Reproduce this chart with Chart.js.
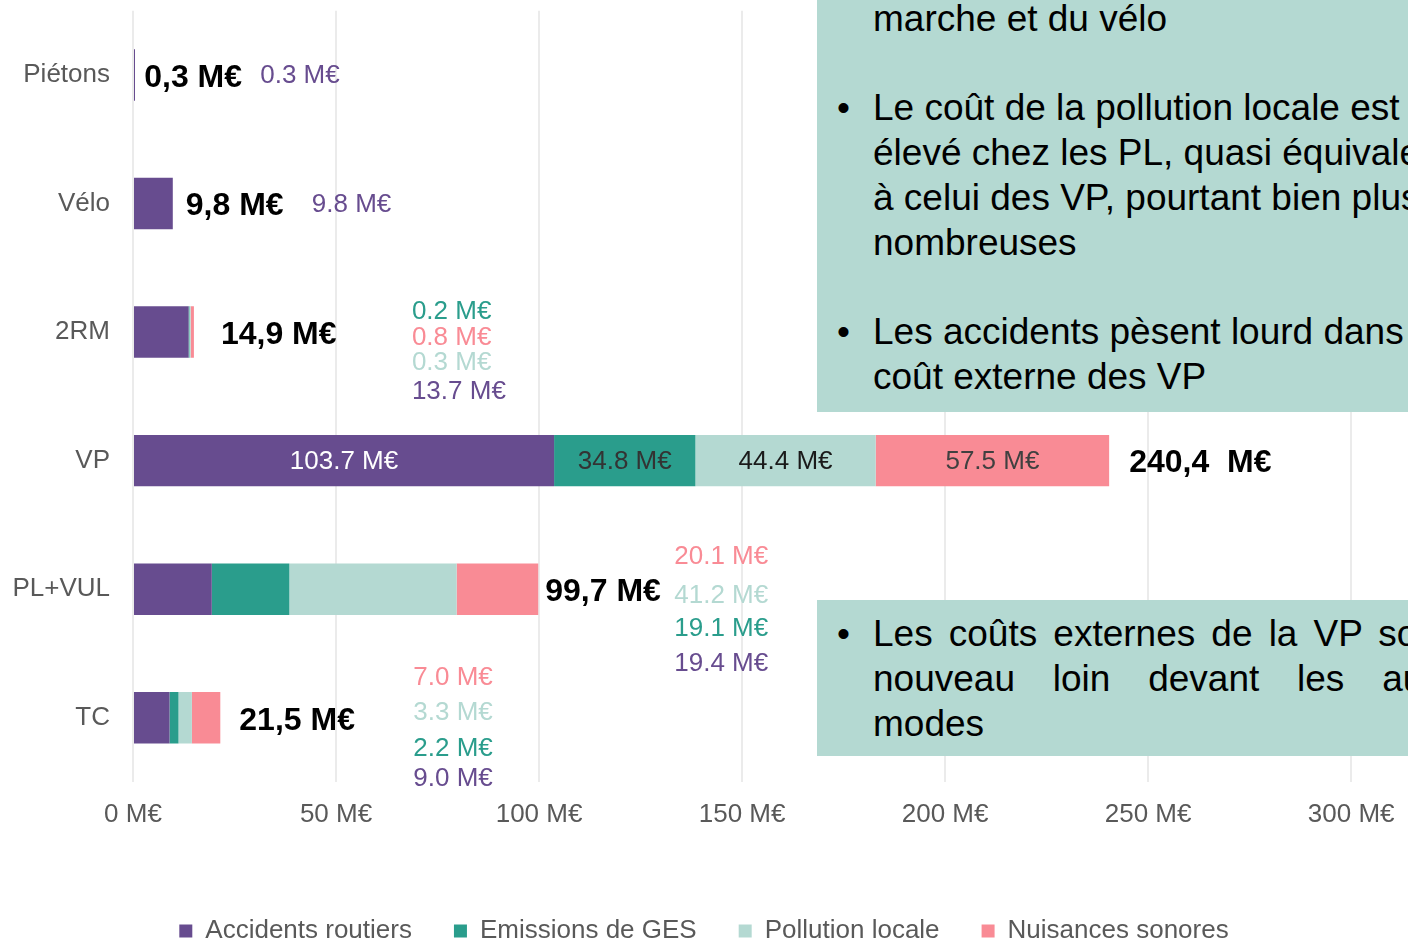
<!DOCTYPE html>
<html><head><meta charset="utf-8">
<script src="https://cdn.jsdelivr.net/npm/chart.js@4.4.1/dist/chart.umd.min.js"></script>
<style>
html,body{margin:0;padding:0;overflow:hidden;background:#fff;}
#wrap{position:relative;width:1408px;height:946px;overflow:hidden;}
#c{position:absolute;left:0;top:0;}
.box{position:absolute;left:817px;width:760px;background:#B4D9D2;overflow:hidden;font-family:"Liberation Sans",Arial,sans-serif;font-size:37px;color:#000;}
.ln{position:absolute;left:56px;white-space:nowrap;height:44.8px;line-height:44.8px;}
.bul{position:absolute;left:20px;height:44.8px;line-height:44.8px;}
.just{white-space:normal;width:612px;text-align:justify;text-align-last:justify;}
</style></head>
<body><div id="wrap">
<canvas id="c" width="1408" height="946"></canvas>
<div class="box" style="top:0;height:412px;">
  <div class="ln" style="top:-3.4px">marche et du vélo</div>
  <div class="bul" style="top:85.6px">•</div>
  <div class="ln" style="top:85.6px">Le coût de la pollution locale est</div>
  <div class="ln" style="top:130.6px">élevé chez les PL, quasi équivalent</div>
  <div class="ln" style="top:175.6px">à celui des VP, pourtant bien plus</div>
  <div class="ln" style="top:220.6px">nombreuses</div>
  <div class="bul" style="top:309.6px">•</div>
  <div class="ln" style="top:309.6px">Les accidents pèsent lourd dans</div>
  <div class="ln" style="top:354.6px">coût externe des VP</div>
</div>
<div class="box" style="top:600px;height:156px;">
  <div class="bul" style="top:11.6px">•</div>
  <div class="ln just" style="top:11.6px">Les coûts externes de la VP sont à</div>
  <div class="ln just" style="top:56.6px">nouveau loin devant les autres</div>
  <div class="ln" style="top:101.6px">modes</div>
</div>
</div>
<script>
const categories = ['Piétons', 'Vélo', '2RM', 'VP', 'PL+VUL', 'TC'];
const seriesNames = ['Accidents routiers', 'Emissions de GES', 'Pollution locale', 'Nuisances sonores'];
const accidents = [0.3, 9.8, 13.7, 103.7, 19.4, 9.0];
const emissionsGES = [0, 0, 0.2, 34.8, 19.1, 2.2];
const pollutionLocale = [0, 0, 0.3, 44.4, 41.2, 3.3];
const nuisancesSonores = [0, 0, 0.8, 57.5, 20.1, 7.0];
const totals = [0.3, 9.8, 14.9, 240.4, 99.7, 21.5];
const totalUnits = [' M€', ' M€', ' M€', '  M€', ' M€', ' M€'];
const xTickValues = [0, 50, 100, 150, 200, 250, 300];

const series = [accidents, emissionsGES, pollutionLocale, nuisancesSonores];
const FONT = '"Liberation Sans", Arial, sans-serif';
const seriesColors = ['#674C8F', '#2A9D8C', '#B4D9D2', '#F98B95'];
const insideColors = ['#FFFFFF', '#333333', '#1A1A1A', '#404040'];
// label placement (pixel offsets), per category
const labelLayout = [
  {totalDx: 10, dx: 126, items: [[0, 1]]},
  {totalDx: 13, dx: 139, items: [[0, 1]]},
  {totalDx: 27, dx: 218, items: [[1, -20], [3, 6], [2, 31], [0, 60]]},
  {totalDx: 20, inside: true},
  {totalDx: 7, dx: 136, items: [[3, -32], [2, 7], [1, 40], [0, 75]]},
  {totalDx: 19, dx: 193, items: [[3, -40], [2, -5], [1, 31], [0, 61]]}
];
const fmt = v => v.toFixed(1) + ' M€';

const valueLabels = {
  id: 'valueLabels',
  afterDatasetsDraw(chart) {
    const ctx = chart.ctx, xs = chart.scales.x, ys = chart.scales.y;
    ctx.save();
    ctx.textBaseline = 'middle';
    categories.forEach((cat, i) => {
      const sum = series.reduce((a, s) => a + s[i], 0);
      const end = xs.getPixelForValue(sum);
      const cy = ys.getPixelForValue(i);
      const L = labelLayout[i];
      ctx.font = 'bold 32px ' + FONT;
      ctx.fillStyle = '#000';
      ctx.textAlign = 'left';
      ctx.fillText(totals[i].toFixed(1).replace('.', ',') + totalUnits[i], end + L.totalDx, cy + 3);
      ctx.font = '26px ' + FONT;
      if (L.inside) {
        ctx.textAlign = 'center';
        series.forEach((s, d) => {
          const el = chart.getDatasetMeta(d).data[i];
          ctx.fillStyle = insideColors[d];
          ctx.fillText(fmt(s[i]), (el.x + el.base) / 2, el.y + 1);
        });
      } else {
        ctx.textAlign = 'left';
        L.items.forEach(([d, dy]) => {
          ctx.fillStyle = seriesColors[d];
          ctx.fillText(fmt(series[d][i]), end + L.dx, cy + dy);
        });
      }
    });
    ctx.restore();
  }
};

new Chart(document.getElementById('c'), {
  type: 'bar',
  data: {
    labels: categories,
    datasets: series.map((s, d) => ({
      label: seriesNames[d],
      data: s,
      backgroundColor: seriesColors[d],
      borderWidth: 0,
      barPercentage: 0.4,
      categoryPercentage: 1,
      minBarLength: d === 0 ? 2 : 0
    }))
  },
  options: {
    indexAxis: 'y',
    responsive: false,
    animation: false,
    layout: {padding: {top: 10.7, left: 0, right: 0, bottom: -8}},
    plugins: {
      legend: {
        position: 'bottom',
        labels: {boxWidth: 13, boxHeight: 13, padding: 42, color: '#595959', font: {family: FONT, size: 26}}
      },
      tooltip: {enabled: false}
    },
    scales: {
      x: {
        stacked: true, min: 0, max: 314,
        ticks: {stepSize: 50, padding: 17.4, color: '#595959', font: {family: FONT, size: 26}, callback: v => v + ' M€'},
        afterBuildTicks: s => { s.ticks = xTickValues.map(v => ({value: v})); },
        grid: {color: '#EBEBEB', lineWidth: 2, drawTicks: false},
        border: {display: false},
        afterFit: s => { s.height = 94; s.paddingLeft = 0; s.paddingRight = 0; }
      },
      y: {
        stacked: true,
        ticks: {padding: 23, color: '#595959', font: {family: FONT, size: 26}},
        grid: {display: false, drawTicks: false},
        border: {display: false},
        afterFit: s => { s.width = 133; s.paddingTop = 0; s.paddingBottom = 0; }
      }
    }
  },
  plugins: [valueLabels]
});
</script>
</body></html>
